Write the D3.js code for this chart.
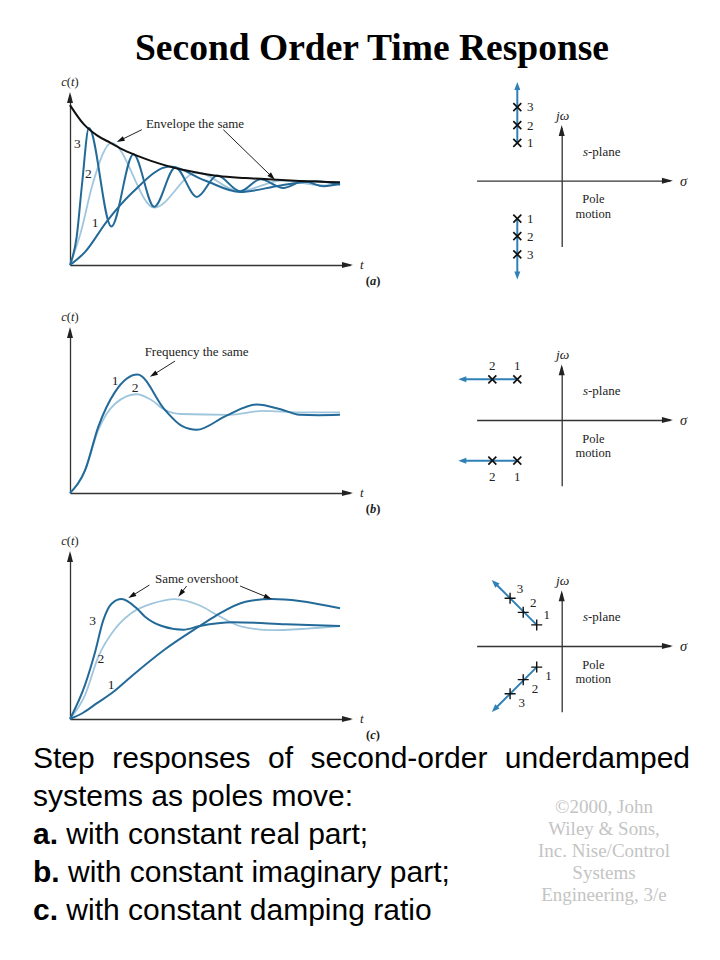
<!DOCTYPE html>
<html>
<head>
<meta charset="utf-8">
<script src="https://cdn.jsdelivr.net/npm/d3@7"></script>
<style>
  body { margin: 0; background: #fff; }
  svg text { font-family: "Liberation Serif", "Times New Roman", serif; fill: #222; }
  .domain { stroke: #333; stroke-width: 1.3; }
</style>
</head>
<body>
<script>
// ---- step response curves as [t, c(t)] ----
// (a) constant real part
const envelopeA = [[0,1.95],[0.5,1.72],[1,1.58],[1.5,1.49],[2,1.40],[2.5,1.33],[3,1.27],[3.7,1.20],[4.5,1.14],[5.5,1.085],[6.5,1.06],[7.6,1.04],[8.5,1.025],[10,1.01]];
const a1 = [[0,0],[0.56,0.16],[1.36,0.53],[2.3,0.88],[3.7,1.20],[5.0,1.03],[6.3,0.89],[7.8,0.97],[9.1,1.02],[10,0.98]];
const a2 = [[0,0],[0.4,0.4],[0.85,1.0],[1.54,1.49],[3.12,0.70],[4.7,1.13],[6.27,0.90],[7.85,1.03],[9.4,0.97],[10,0.98]];
const a3 = [[0,0],[0.25,0.35],[0.45,1.0],[0.70,1.67],[1.53,0.47],[2.35,1.35],[3.12,0.71],[3.9,1.19],[4.7,0.83],[5.45,1.09],[6.3,0.90],[7.05,1.045],[7.9,0.94],[8.65,1.02],[9.4,0.96],[10,0.99]];
// (b) constant imaginary part
const b1 = [[0,0],[0.56,0.29],[1.05,0.84],[1.67,1.28],[2.5,1.50],[3.52,1.05],[4.14,0.85],[4.69,0.80],[5.8,0.98],[6.91,1.12],[7.8,1.06],[8.5,0.99],[9.2,0.985],[10,0.99]];
const b2 = [[0,0],[0.56,0.29],[1.05,0.80],[1.67,1.13],[2.47,1.25],[3.0,1.18],[3.52,1.05],[4.1,1.0],[5.9,0.99],[7.16,1.04],[8.5,1.02],[10,1.02]];
// (c) constant damping ratio
const c1 = [[0,0],[0.5,0.07],[1.0,0.17],[1.6,0.29],[2.28,0.46],[3.52,0.75],[4.75,0.99],[5.4,1.11],[6.5,1.26],[7.47,1.29],[8.5,1.27],[10,1.19]];
const c2 = [[0,0],[0.56,0.26],[1.05,0.67],[1.67,0.97],[2.28,1.14],[3.03,1.24],[3.89,1.29],[4.81,1.22],[5.5,1.11],[6.4,0.99],[7.5,0.955],[8.7,0.97],[10,1.0]];
const c3 = [[0,0],[0.56,0.37],[0.93,0.72],[1.23,1.06],[1.54,1.24],[1.91,1.29],[2.47,1.19],[2.78,1.10],[3.4,1.0],[4.2,0.96],[4.81,1.0],[6.04,1.04],[8,1.02],[10,1.0]];

// curve number labels [text, t, c]
const labelsA = [['3',0.27,1.48],['2',0.68,1.11],['1',0.93,0.52]];
const labelsB = [['1',1.67,1.43],['2',2.41,1.33]];
const labelsC = [['3',0.84,1.06],['2',1.14,0.65],['1',1.52,0.37]];

// annotations: text at [t, c], arrows [fromT, fromC, toT, toC]
const noteA = {text:'Envelope the same', at:[4.63,1.72], arrows:[[2.66,1.65,1.73,1.50],[5.68,1.65,7.59,1.04]]};
const noteB = {text:'Frequency the same', at:[4.69,1.79], arrows:[[3.89,1.67,2.96,1.47]]};
const noteC = {text:'Same overshoot', at:[4.69,1.51], arrows:[[2.94,1.44,2.16,1.30],[4.32,1.43,4.01,1.315],[6.3,1.43,7.47,1.29]]};

// ---- s-plane poles (upper half; lower half is the mirror) ----
const polesA = [['1',-2.4,2.05],['2',-2.4,3.0],['3',-2.4,3.98]];
const tipA = [-2.4,5.34];
const polesB = [['1',-2.4,2.2],['2',-3.75,2.2]];
const tipB = [-5.59,2.2];
const polesC = [['1',-1.35,1.14],['2',-2.08,1.82],['3',-2.79,2.58]];
const tipC = [-3.78,3.57];

const T_MAX = 10.37;
const SIG = [-4.6, 5.85], JW = [-3.55, 2.85];

const W = 720, H = 960;
const DARK = '#236a99', LIGHT = '#a0c6de', POLE = '#2f80b6';

const svg = d3.select('body').append('svg').attr('width', W).attr('height', H);
svg.append('rect').attr('width', W).attr('height', H).attr('fill', '#fff');

function arrowHead(g, x, y, ang, len, wid, color) {
  const bx = x - len * Math.cos(ang), by = y - len * Math.sin(ang);
  const px = -Math.sin(ang) * wid / 2, py = Math.cos(ang) * wid / 2;
  g.append('path')
    .attr('d', `M${x},${y}L${bx + px},${by + py}L${bx - px},${by - py}Z`)
    .attr('fill', color);
}

function stepPanel(o) {
  const x = d3.scaleLinear().domain([0, T_MAX]).range([70, 350]);
  const y = d3.scaleLinear().domain([0, o.cTop]).range([o.y0, o.yTop]);
  const g = svg.append('g');

  g.append('g').attr('transform', `translate(0,${o.y0})`)
    .call(d3.axisBottom(x).tickValues([]).tickSizeOuter(0));
  g.append('g').attr('transform', 'translate(70,0)')
    .call(d3.axisLeft(y).tickValues([]).tickSizeOuter(0));
  arrowHead(g, 353, o.y0, 0, 11, 6, '#222');
  arrowHead(g, 70, o.yTop - 3, -Math.PI / 2, 11, 6, '#222');

  const line = d3.line().x(d => x(d[0])).y(d => y(d[1])).curve(d3.curveMonotoneX);
  o.series.forEach(s => {
    g.append('path').datum(s.data)
      .attr('d', line)
      .attr('fill', 'none')
      .attr('stroke', s.color)
      .attr('stroke-width', s.width);
  });

  // axis names
  const ct = g.append('text').attr('x', 70).attr('y', o.yTop - 9)
    .attr('text-anchor', 'middle').attr('font-size', 12.5);
  ct.append('tspan').attr('font-style', 'italic').text('c');
  ct.append('tspan').text('(');
  ct.append('tspan').attr('font-style', 'italic').text('t');
  ct.append('tspan').text(')');
  g.append('text').attr('x', 360).attr('y', o.y0 + 4)
    .attr('font-size', 13).attr('font-style', 'italic').text('t');
  const pl = g.append('text').attr('x', 373).attr('y', o.y0 + 20)
    .attr('text-anchor', 'middle').attr('font-size', 12.5).attr('font-weight', 'bold');
  pl.append('tspan').text('(');
  pl.append('tspan').attr('font-style', 'italic').text(o.tag);
  pl.append('tspan').text(')');

  o.labels.forEach(l => {
    g.append('text').attr('x', x(l[1])).attr('y', y(l[2]) + 4.5)
      .attr('text-anchor', 'middle').attr('font-size', 13.5).text(l[0]);
  });

  const n = o.note;
  g.append('text').attr('x', x(n.at[0])).attr('y', y(n.at[1]) + 4.5)
    .attr('text-anchor', 'middle').attr('font-size', 13).text(n.text);
  n.arrows.forEach(a => {
    const x1 = x(a[0]), y1 = y(a[1]), x2 = x(a[2]), y2 = y(a[3]);
    const ang = Math.atan2(y2 - y1, x2 - x1);
    g.append('line')
      .attr('x1', x1).attr('y1', y1)
      .attr('x2', x2 - 6 * Math.cos(ang)).attr('y2', y2 - 6 * Math.sin(ang))
      .attr('stroke', '#222').attr('stroke-width', 1);
    arrowHead(g, x2, y2, ang, 8, 5, '#111');
  });
}

stepPanel({
  y0: 265, yTop: 95, cTop: 170 / 82, tag: 'a',
  series: [
    {data: a2, color: LIGHT, width: 1.8},
    {data: a1, color: DARK, width: 2},
    {data: a3, color: DARK, width: 2},
    {data: envelopeA, color: '#111', width: 2}
  ],
  labels: labelsA, note: noteA
});
stepPanel({
  y0: 493, yTop: 330, cTop: 163 / 79, tag: 'b',
  series: [
    {data: b2, color: LIGHT, width: 1.8},
    {data: b1, color: DARK, width: 2}
  ],
  labels: labelsB, note: noteB
});
stepPanel({
  y0: 719, yTop: 554, cTop: 165 / 93, tag: 'c',
  series: [
    {data: c2, color: LIGHT, width: 1.8},
    {data: c1, color: DARK, width: 2},
    {data: c3, color: DARK, width: 2}
  ],
  labels: labelsC, note: noteC
});

function sPlane(o) {
  const k = 18.5, cx = 561.7;
  const sx = d3.scaleLinear().domain(SIG).range([cx + SIG[0] * k, cx + SIG[1] * k]);
  const sy = d3.scaleLinear().domain(JW).range([o.cy - JW[0] * k, o.cy - JW[1] * k]);
  const g = svg.append('g');

  g.append('g').attr('transform', `translate(0,${sy(0)})`)
    .call(d3.axisBottom(sx).tickValues([]).tickSizeOuter(0));
  g.append('g').attr('transform', `translate(${sx(0)},0)`)
    .call(d3.axisLeft(sy).tickValues([]).tickSizeOuter(0));
  arrowHead(g, sx(SIG[1]) + 3, sy(0), 0, 11, 6, '#222');
  arrowHead(g, sx(0), sy(JW[1]) - 3, -Math.PI / 2, 11, 6, '#222');

  g.append('text').attr('x', sx(0) + 1).attr('y', sy(JW[1]) - 8)
    .attr('text-anchor', 'middle').attr('font-size', 13.5).attr('font-style', 'italic').text('jω');
  g.append('text').attr('x', sx(SIG[1]) + 10).attr('y', sy(0) + 5)
    .attr('font-size', 14.5).attr('font-style', 'italic').text('σ');
  const sp = g.append('text').attr('x', sx(2.16)).attr('y', sy(1.57) + 4.5)
    .attr('text-anchor', 'middle').attr('font-size', 13);
  sp.append('tspan').attr('font-style', 'italic').text('s');
  sp.append('tspan').text('-plane');
  g.append('text').attr('x', sx(1.71)).attr('y', sy(-0.99) + 4.3)
    .attr('text-anchor', 'middle').attr('font-size', 12.5).text('Pole');
  g.append('text').attr('x', sx(1.71)).attr('y', sy(-1.78) + 4.3)
    .attr('text-anchor', 'middle').attr('font-size', 12.5).text('motion');

  [1, -1].forEach(side => {
    const first = o.poles[0];
    const x1 = sx(first[1]), y1 = sy(side * first[2]);
    const x2 = sx(o.tip[0]), y2 = sy(side * o.tip[1]);
    const ang = Math.atan2(y2 - y1, x2 - x1);
    g.append('line')
      .attr('x1', x1).attr('y1', y1)
      .attr('x2', x2 - 5 * Math.cos(ang)).attr('y2', y2 - 5 * Math.sin(ang))
      .attr('stroke', POLE).attr('stroke-width', 2);
    arrowHead(g, x2, y2, ang, 8, 6, POLE);

    o.poles.forEach(p => {
      const px = sx(p[1]), py = sy(side * p[2]);
      const r = o.plus ? 5.5 : 4;
      const d = o.plus
        ? `M${px - r},${py}H${px + r}M${px},${py - r}V${py + r}`
        : `M${px - r},${py - r}L${px + r},${py + r}M${px - r},${py + r}L${px + r},${py - r}`;
      g.append('path').attr('d', d).attr('stroke', '#111')
        .attr('stroke-width', o.plus ? 1.4 : 1.7).attr('fill', 'none');
      const off = side > 0 ? o.offUp : o.offDown;
      g.append('text').attr('x', px + off[0]).attr('y', py + off[1] + 4.3)
        .attr('text-anchor', 'middle').attr('font-size', 13).text(p[0]);
    });
  });
}

sPlane({cy: 180.7, poles: polesA, tip: tipA, offUp: [13, 0], offDown: [13, 0]});
sPlane({cy: 420, poles: polesB, tip: tipB, offUp: [0, -13.5], offDown: [0, 16]});
sPlane({cy: 646, poles: polesC, tip: tipC, plus: true, offUp: [10, -10], offDown: [11.7, 8.7]});

// ---- title ----
svg.append('text').attr('x', 372).attr('y', 60)
  .attr('text-anchor', 'middle').attr('font-size', 37.5).attr('font-weight', 'bold')
  .style('fill', '#000').text('Second Order Time Response');

// ---- caption ----
const captionLines = [
  [['', 'Step responses of second-order underdamped']],
  [['', 'systems as poles move:']],
  [['a.', ' with constant real part;']],
  [['b.', ' with constant imaginary part;']],
  [['c.', ' with constant damping ratio']]
];
const capBase = [768, 806, 844, 882, 920];
captionLines.forEach((ln, i) => {
  const t = svg.append('text').attr('x', 33).attr('y', capBase[i])
    .style('font-family', '"Liberation Sans", Arial, sans-serif')
    .style('fill', '#000').attr('font-size', 30);
  ln.forEach(part => {
    if (part[0]) t.append('tspan').attr('font-weight', 'bold').text(part[0]);
    t.append('tspan').text(part[1]);
  });
  if (i === 0) {
    const w = t.node().getComputedTextLength();
    t.style('word-spacing', ((657 - w) / 4) + 'px');
  }
});

// ---- copyright ----
const copyLines = ['©2000, John', 'Wiley & Sons,', 'Inc. Nise/Control', 'Systems', 'Engineering, 3/e'];
copyLines.forEach((s, i) => {
  svg.append('text').attr('x', 604).attr('y', 813 + i * 22)
    .attr('text-anchor', 'middle').attr('font-size', 19)
    .style('fill', '#c4c4c4').text(s);
});
</script>
</body>
</html>
